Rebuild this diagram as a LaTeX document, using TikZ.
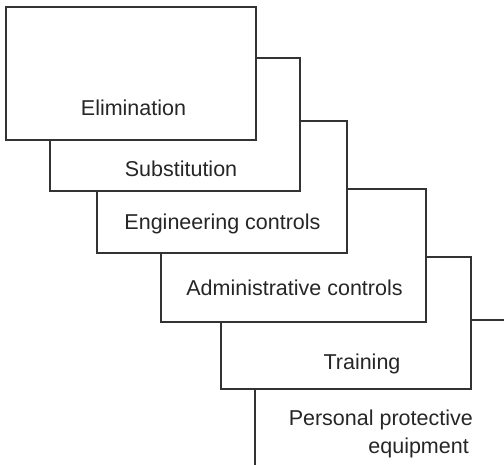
\documentclass[tikz,border=0pt]{standalone}
\usepackage{fontspec}
\setmainfont{Liberation Sans}
\begin{document}
\begin{tikzpicture}[x=1pt,y=-1pt,
  box/.style={draw=black!80,line width=1.1pt,fill=white,inner sep=0pt,outer sep=0pt,anchor=north west},
  lbl/.style={inner sep=0pt,anchor=base,text=black!85,font=\fontsize{21.5}{28}\selectfont}]
\useasboundingbox (0,0) rectangle (504,464);
\clip (0,0) rectangle (504,464);
\node[box,minimum width=305pt,minimum height=200pt] (b6) at (255,320) {};
\node[box,minimum width=250pt,minimum height=132pt] (b5) at (221,257) {};
\node[box,minimum width=265pt,minimum height=133pt] (b4) at (161,189) {};
\node[box,minimum width=250pt,minimum height=132pt] (b3) at (97,121) {};
\node[box,minimum width=250pt,minimum height=133pt] (b2) at (50,58) {};
\node[box,minimum width=250pt,minimum height=133pt] (b1) at (6,7) {};
\node[lbl] (t1) at (133.5,115) {Elimination};
\node[lbl] (t2) at (181,176) {Substitution};
\node[lbl] (t3) at (222.5,229) {Engineering controls};
\node[lbl] (t4) at (294.5,295) {Administrative controls};
\node[lbl] (t5) at (362,369) {Training};
\node[lbl,anchor=base east] (t6) at (473,425) {Personal protective};
\node[lbl,anchor=base east] (t7) at (469,453) {equipment};
\end{tikzpicture}
\end{document}
